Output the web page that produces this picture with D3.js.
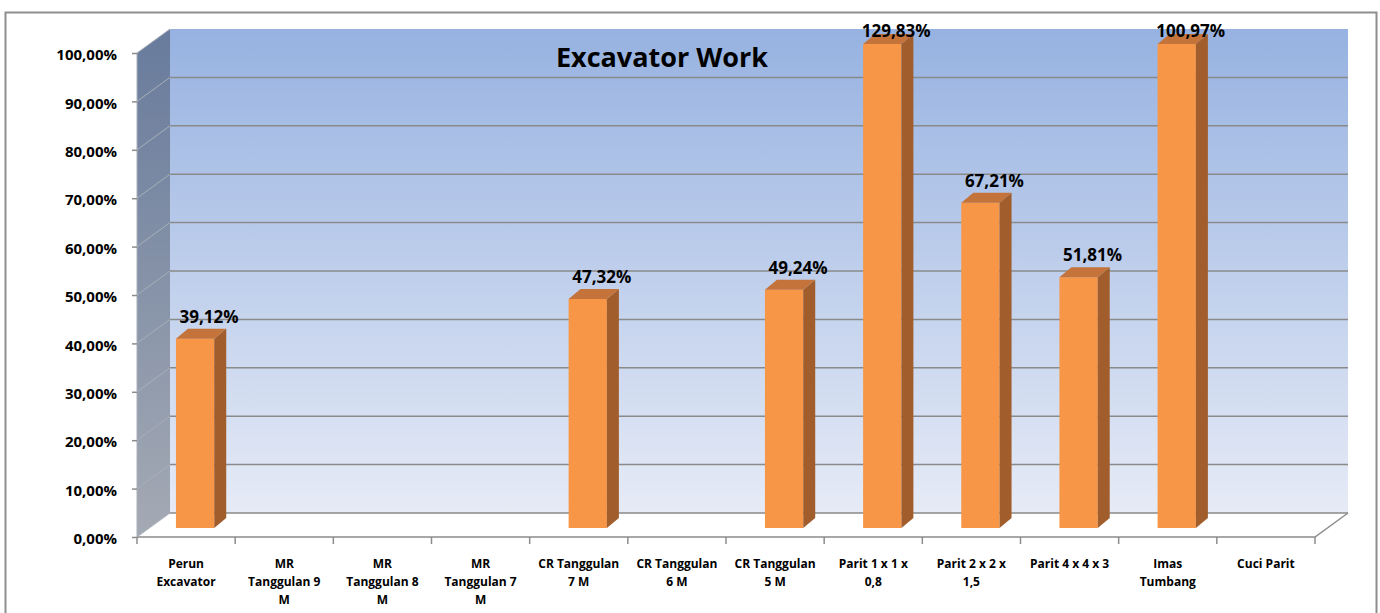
<!DOCTYPE html>
<html>
<head>
<meta charset="utf-8">
<style>
  body { margin: 0; background: #fff; }
  text { font-family: "Open Sans", "DejaVu Sans", sans-serif; font-weight: bold; fill: #000; }
  .grid { stroke: #8a8a8a; stroke-width: 1.5px; }
  .sidegrid { stroke: #a9afb9; stroke-width: 1px; }
  .edge { stroke: #8c8c8c; stroke-width: 1.5px; fill: none; }
</style>
</head>
<body>
<script src="https://cdn.jsdelivr.net/npm/d3@7"></script>
<script>
// chart values
const title = "Excavator Work";
const categories = [
  "Perun\nExcavator", "MR\nTanggulan 9\nM", "MR\nTanggulan 8\nM", "MR\nTanggulan 7\nM",
  "CR Tanggulan\n7 M", "CR Tanggulan\n6 M", "CR Tanggulan\n5 M", "Parit 1 x 1 x\n0,8",
  "Parit 2 x 2 x\n1,5", "Parit 4 x 4 x 3", "Imas\nTumbang", "Cuci Parit"
];
const values = [0.3912, null, null, null, 0.4732, null, 0.4924, 1.2983, 0.6721, 0.5181, 1.0097, null];
const yTicks = [0, 0.1, 0.2, 0.3, 0.4, 0.5, 0.6, 0.7, 0.8, 0.9, 1];

const W = 1380, H = 613;
const DX = 33, DY = -24;          // wall depth
const BF = [9, -9], BD = [12, -10]; // bar front offset, bar depth

const loc = d3.formatLocale({ decimal: ",", thousands: ".", grouping: [3], currency: ["", ""] });
const pct = loc.format(".2%");

const svg = d3.select("body").append("svg")
    .attr("width", W)
    .attr("height", H);

const defs = svg.append("defs");
const gBack = defs.append("linearGradient").attr("id", "back").attr("x1", 0).attr("y1", 0).attr("x2", 0).attr("y2", 1);
gBack.append("stop").attr("offset", "0%").attr("stop-color", "#97b2e1");
gBack.append("stop").attr("offset", "100%").attr("stop-color", "#e6ebf6");
const gSide = defs.append("linearGradient").attr("id", "side").attr("x1", 0).attr("y1", 0).attr("x2", 0).attr("y2", 1);
gSide.append("stop").attr("offset", "0%").attr("stop-color", "#687b9c");
gSide.append("stop").attr("offset", "100%").attr("stop-color", "#a4aab4");

const x = d3.scaleBand().domain(categories).range([137, 1315]);
const y = d3.scaleLinear().domain([0, 1]).range([537, 53]).clamp(true);

const x0 = x.range()[0], x1 = x.range()[1];

// outer border
svg.append("rect")
    .attr("x", 5.5).attr("y", 12.5)
    .attr("width", 1371).attr("height", 650)
    .attr("fill", "#fff")
    .attr("stroke", "#8e8e8e")
    .attr("stroke-width", 2);

// back wall
svg.append("rect")
    .attr("x", x0 + DX).attr("y", y(1) + DY)
    .attr("width", x1 - x0).attr("height", y(0) - y(1))
    .attr("fill", "url(#back)");

// side wall
svg.append("polygon")
    .attr("points", [[x0, y(1)], [x0 + DX, y(1) + DY], [x0 + DX, y(0) + DY], [x0, y(0)]].join(" "))
    .attr("fill", "url(#side)");

// floor
svg.append("polygon")
    .attr("points", [[x0, y(0)], [x1, y(0)], [x1 + DX, y(0) + DY], [x0 + DX, y(0) + DY]].join(" "))
    .attr("fill", "#fff");

// gridlines on back and side walls
svg.selectAll(".grid").data(yTicks.filter(t => t < 1))
  .enter().append("line")
    .attr("class", "grid")
    .attr("x1", x0 + DX).attr("x2", x1 + DX)
    .attr("y1", d => y(d) + DY).attr("y2", d => y(d) + DY);

svg.selectAll(".sidegrid").data(yTicks)
  .enter().append("line")
    .attr("class", "sidegrid")
    .attr("x1", x0).attr("x2", x0 + DX)
    .attr("y1", d => y(d)).attr("y2", d => y(d) + DY);

// floor edges
svg.append("path").attr("class", "edge")
    .attr("d", `M${x0},${y(0)}L${x1},${y(0)}L${x1 + DX},${y(0) + DY}`);
svg.append("line").attr("class", "sidegrid")
    .attr("x1", x0).attr("x2", x0).attr("y1", y(1)).attr("y2", y(0));

// category ticks
svg.selectAll(".ctick").data(d3.range(categories.length + 1))
  .enter().append("line")
    .attr("class", "edge")
    .attr("x1", i => x0 + i * x.step()).attr("x2", i => x0 + i * x.step())
    .attr("y1", y(0)).attr("y2", y(0) + 7);

// y axis
const yAxis = svg.append("g")
    .attr("transform", `translate(${x0},0)`)
    .call(d3.axisLeft(y).tickValues(yTicks).tickFormat(pct).tickSize(5).tickPadding(15));
yAxis.select(".domain").remove();
yAxis.selectAll(".tick line").attr("stroke", "#8c8c8c").attr("stroke-width", 1.5);
yAxis.selectAll(".tick text")
    .attr("font-family", "Open Sans")
    .attr("font-size", 15)
    .attr("font-weight", "bold")
    .attr("dy", "0.45em");

// category labels
const cl = svg.selectAll(".clabel").data(categories)
  .enter().append("text")
    .attr("class", "clabel")
    .attr("text-anchor", "middle")
    .attr("font-size", 12)
    .attr("x", d => x(d) + x.bandwidth() / 2)
    .attr("y", 568);
cl.selectAll("tspan").data(d => d.split("\n").map(s => [s, d]))
  .enter().append("tspan")
    .attr("x", d => x(d[1]) + x.bandwidth() / 2)
    .attr("dy", (d, i) => i === 0 ? 0 : 18)
    .text(d => d[0]);

// bars
const bw = x.bandwidth() * 0.39;
const bars = categories.map((c, i) => ({ c, v: values[i] })).filter(d => d.v != null);

const bar = svg.selectAll(".bar").data(bars)
  .enter().append("g")
    .attr("class", "bar");

const fl = d => x(d.c) + x.bandwidth() / 2 - bw / 2 + BF[0];
const yt = d => y(d.v) + BF[1];
const yb = y(0) + BF[1];

bar.append("rect")
    .attr("x", fl).attr("y", yt)
    .attr("width", bw).attr("height", d => yb - yt(d))
    .attr("fill", "#f79646");

bar.append("polygon")
    .attr("points", d => {
      const r = fl(d) + bw;
      return [[r, yt(d)], [r + BD[0], yt(d) + BD[1]], [r + BD[0], yb + BD[1]], [r, yb]].join(" ");
    })
    .attr("fill", "#a15e2c");

bar.append("polygon")
    .attr("points", d => {
      const l = fl(d), t = yt(d);
      return [[l, t], [l + BD[0], t + BD[1]], [l + bw + BD[0], t + BD[1]], [l + bw, t]].join(" ");
    })
    .attr("fill", "#c4733a");

bar.append("text")
    .attr("text-anchor", "middle")
    .attr("font-size", 17)
    .attr("x", d => fl(d) + bw / 2 + 14)
    .attr("y", d => Math.max(yt(d) - 16, 37))
    .text(d => pct(d.v));

// title
svg.append("text")
    .attr("text-anchor", "middle")
    .attr("font-size", 27)
    .attr("x", 662)
    .attr("y", 67)
    .text(title);
</script>
</body>
</html>
